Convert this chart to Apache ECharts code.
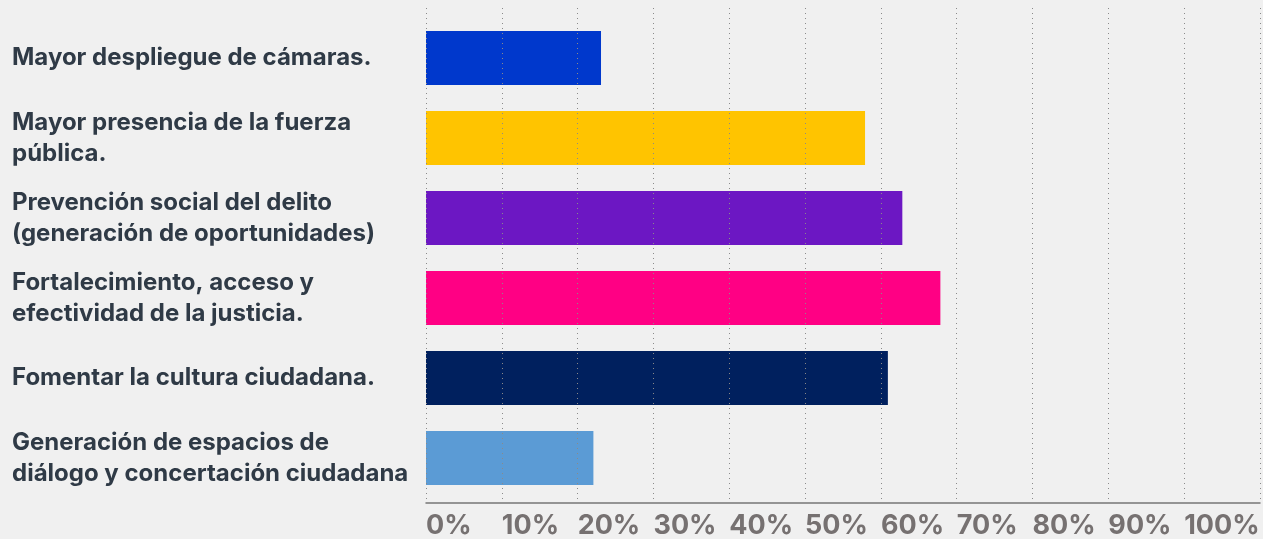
<!DOCTYPE html>
<html>
<head>
<meta charset="utf-8">
<script src="https://cdn.jsdelivr.net/npm/echarts@6/dist/echarts.min.js"></script>
<style>
  html, body { margin: 0; padding: 0; background: #f0f0f0; }
  #chart { width: 1263px; height: 539px; }
</style>
</head>
<body>
<div id="chart"></div>
<script>
const categories = [
  'Mayor despliegue de cámaras.',
  'Mayor presencia de la fuerza\npública.',
  'Prevención social del delito\n(generación de oportunidades)',
  'Fortalecimiento, acceso y\nefectividad de la justicia.',
  'Fomentar la cultura ciudadana.',
  'Generación de espacios de\ndiálogo y concertación ciudadana'
]
const values = [23, 57.7, 62.6, 67.6, 60.7, 22]
const barColors = ['#0038cc', '#ffc400', '#6c17c3', '#ff0084', '#00205e', '#5b9bd5']

const chart = echarts.init(document.getElementById('chart'))

chart.setOption({
  backgroundColor: '#f0f0f0',
  animation: false,
  grid: [
    // bars
    { left: 426, top: 18, width: 839, height: 480 },
    // grid lines, axis line and percent labels
    { left: 426, top: 8, width: 839, height: 496 }
  ],
  xAxis: [
    {
      gridIndex: 0, type: 'value', min: 0, max: 110, interval: 10,
      show: false
    },
    {
      gridIndex: 1, type: 'value', min: 0, max: 110, interval: 10,
      z: 5,
      axisLine: { show: true, lineStyle: { color: '#767676', width: 1.5 } },
      axisTick: { show: false },
      axisLabel: {
        formatter: v => (v > 100 ? '' : v + '%'),
        align: 'left',
        margin: 9,
        color: '#767171',
        fontSize: 27,
        fontWeight: 'bold',
        fontFamily: 'Inter'
      },
      splitLine: { show: true, lineStyle: { color: '#8a8a8a', type: [1, 4], width: 1 } }
    }
  ],
  yAxis: [
    {
      gridIndex: 0, type: 'category', inverse: true, data: categories,
      axisLine: { show: false },
      axisTick: { show: false },
      axisLabel: {
        align: 'left',
        margin: 414,
        color: '#2f3a46',
        fontSize: 24,
        fontWeight: 'bold',
        fontFamily: 'Inter',
        lineHeight: 31
      }
    },
    { gridIndex: 1, type: 'category', data: categories, show: false }
  ],
  series: [{
    type: 'bar',
    xAxisIndex: 0,
    yAxisIndex: 0,
    barWidth: 54,
    data: values.map((v, i) => ({ value: v, itemStyle: { color: barColors[i] } }))
  }]
})
</script>
</body>
</html>
